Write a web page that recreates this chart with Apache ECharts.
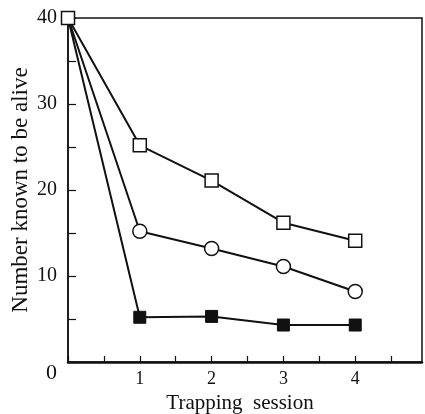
<!DOCTYPE html>
<html><head><meta charset="utf-8">
<script src="https://cdn.jsdelivr.net/npm/echarts@6/dist/echarts.min.js"></script>
<style>html,body{margin:0;padding:0;background:#fff}#c{width:425px;height:414px}</style>
</head><body><div id="c"></div>
<script>
var sessions = [0, 1, 2, 3, 4];
var openSquares = [40, 25.2, 21.1, 16.2, 14.1];
var openCircles = [40, 15.2, 13.2, 11.1, 8.2];
var filledSquares = [40, 5.2, 5.3, 4.3, 4.3];
var yTickLabels = [10, 20, 30, 40];
var xTickLabels = [1, 2, 3, 4];

function pts(vals, hideFirst) {
  return sessions.map(function (s, i) {
    var d = { value: [s, vals[i]] };
    if (hideFirst && i === 0) d.symbol = 'none';
    return d;
  });
}
var FONT = '"Liberation Serif", "DejaVu Serif", serif';
var chart = echarts.init(document.getElementById('c'));
chart.setOption({
  animation: false,
  backgroundColor: '#fff',
  grid: { left: 68, right: 3, top: 18, bottom: 52, containLabel: false, outerBoundsMode: 'none',
          show: true, borderColor: '#111', borderWidth: 1.5 },
  xAxis: {
    type: 'value', min: 0, max: 4.93, interval: 0.5,
    name: 'Trapping  session', nameLocation: 'middle', nameGap: 30,
    nameTextStyle: { fontFamily: FONT, fontSize: 21, color: '#111', padding: [0, 10, 0, 0] },
    axisLine: { lineStyle: { color: '#111', width: 2.5 } },
    axisTick: { inside: true, length: 6, lineStyle: { color: '#111', width: 1.2 } },
    splitLine: { show: false },
    axisLabel: {
      showMaxLabel: false, margin: 8, fontFamily: FONT, fontSize: 18, color: '#111',
      formatter: function (v) { return xTickLabels.indexOf(v) >= 0 ? String(v) : ''; }
    }
  },
  yAxis: {
    type: 'value', min: 0, max: 40, interval: 5,
    name: 'Number known to be alive', nameLocation: 'middle', nameGap: 36, nameMoveOverlap: false,
    nameTextStyle: { fontFamily: FONT, fontSize: 23, color: '#111' },
    axisLine: { lineStyle: { color: '#111', width: 1.5 } },
    axisTick: { inside: true, length: 8, lineStyle: { color: '#111', width: 1.2 } },
    splitLine: { show: false },
    axisLabel: {
      margin: 11, fontFamily: FONT, fontSize: 20, color: '#111',
      formatter: function (v) { return yTickLabels.indexOf(v) >= 0 ? String(v) : ''; }
    }
  },
  graphic: [{
    type: 'text', left: 46, top: 362,
    style: { text: '0', font: '22px ' + FONT, fill: '#111' }
  }],
  series: [
    { type: 'line', data: pts(filledSquares, true), symbol: 'rect', symbolSize: 12,
      lineStyle: { color: '#111', width: 2 }, itemStyle: { color: '#111', borderColor: '#111' }, z: 2 },
    { type: 'line', data: pts(openCircles, true), symbol: 'circle', symbolSize: 14,
      lineStyle: { color: '#111', width: 2 }, itemStyle: { color: '#fff', borderColor: '#111', borderWidth: 1.5 }, z: 3 },
    { type: 'line', data: pts(openSquares, false), symbol: 'rect', symbolSize: 13,
      lineStyle: { color: '#111', width: 2 }, itemStyle: { color: '#fff', borderColor: '#111', borderWidth: 1.5 }, z: 4 }
  ]
});
</script></body></html>
